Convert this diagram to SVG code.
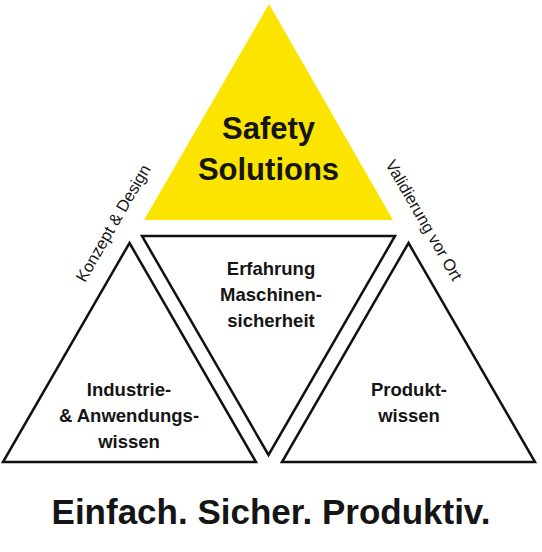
<svg xmlns="http://www.w3.org/2000/svg" width="542" height="552" viewBox="0 0 542 552">
<style>
.tri{fill:#ffffff;stroke:#111111;stroke-width:2.5;stroke-linejoin:miter}
.yel{fill:#fbe400;stroke:none}
.t{font-family:"Liberation Sans",Arial,Helvetica,sans-serif;font-weight:bold;fill:#151515;text-anchor:middle}
.r{font-family:"Liberation Sans",Arial,Helvetica,sans-serif;font-size:16.5px;fill:#151515;text-anchor:middle}
</style>
<rect width="542" height="552" fill="#ffffff"/>
<g id="safety-solutions">
<polygon class="yel" points="269,4 393,220 144,220"/>
<text class="t" font-size="31" x="268.5" y="139">Safety</text>
<text class="t" font-size="31" x="268.5" y="180">Solutions</text>
</g>
<g id="erfahrung">
<polygon class="tri" points="142,236 395,236 268.5,455"/>
<text class="t" font-size="18.5" x="271" y="275">Erfahrung</text>
<text class="t" font-size="18.5" x="271" y="301">Maschinen-</text>
<text class="t" font-size="18.5" x="271" y="327">sicherheit</text>
</g>
<g id="industrie">
<polygon class="tri" points="129.5,243 256,462 3,462"/>
<text class="t" font-size="18.5" x="129" y="396">Industrie-</text>
<text class="t" font-size="18.5" x="129" y="422">&amp; Anwendungs-</text>
<text class="t" font-size="18.5" x="129" y="448">wissen</text>
</g>
<g id="produkt">
<polygon class="tri" points="408.5,243 535,462 282,462"/>
<text class="t" font-size="18.5" x="409" y="396">Produkt-</text>
<text class="t" font-size="18.5" x="409" y="422">wissen</text>
</g>
<g id="connectors">
<text class="r" transform="translate(118,226) rotate(-60)">Konzept &amp; Design</text>
<text class="r" transform="translate(419,223) rotate(60)">Validierung vor Ort</text>
</g>
<g id="slogan">
<text class="t" font-size="35" x="271" y="523.5">Einfach. Sicher. Produktiv.</text>
</g>
</svg>
